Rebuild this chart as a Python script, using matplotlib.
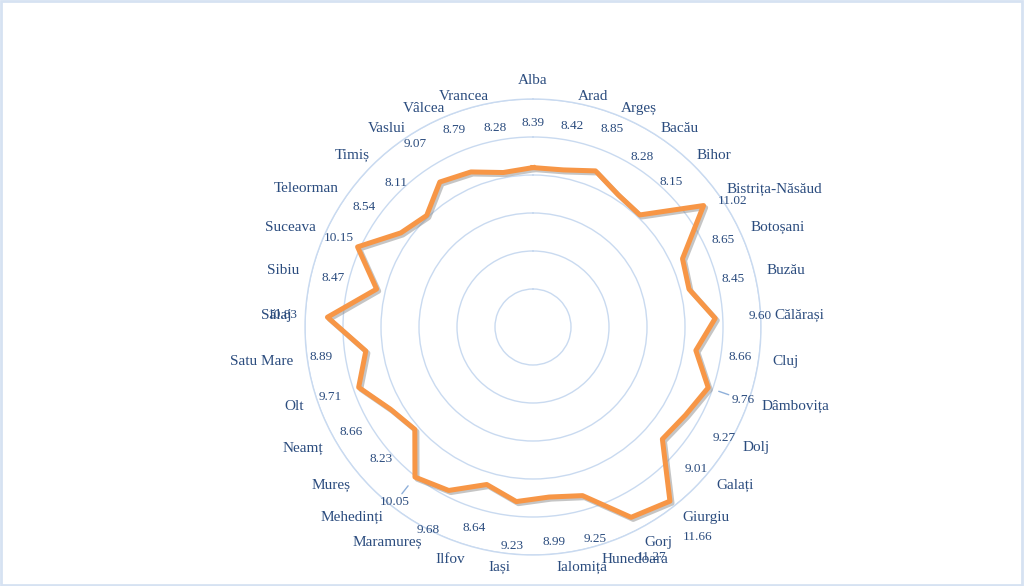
import numpy as np
import matplotlib
matplotlib.use('Agg')
import matplotlib.pyplot as plt
import matplotlib.patheffects as pe
from matplotlib.patches import Rectangle

# Counties (clockwise from the top) and their values
counties = ['Alba', 'Arad', 'Argeș', 'Bacău', 'Bihor', 'Bistrița-Năsăud', 'Botoșani',
            'Buzău', 'Călărași', 'Cluj', 'Dâmbovița', 'Dolj', 'Galați', 'Giurgiu',
            'Gorj', 'Hunedoara', 'Ialomița', 'Iași', 'Ilfov', 'Maramureș', 'Mehedinți',
            'Mureș', 'Neamț', 'Olt', 'Satu Mare', 'Sălaj', 'Sibiu', 'Suceava',
            'Teleorman', 'Timiș', 'Vaslui', 'Vâlcea', 'Vrancea']
values = [8.39, 8.42, 8.85, 8.28, 8.15, 11.02, 8.65,
          8.45, 9.60, 8.66, 9.76, 9.27, 9.01, 11.66,
          11.27, 9.25, 8.99, 9.23, 8.64, 9.68, 10.05,
          8.23, 8.66, 9.71, 8.89, 10.83, 8.47, 10.15,
          8.54, 8.11, 9.07, 8.79, 8.28]

# data labels that were dragged away from their default spot
# (radius in data units, angle shift in degrees)
moved_labels = {'Bistrița-Năsăud': (12.4, 3.2), 'Dâmbovița': (11.7, 0), 'Mehedinți': (11.75, 0),
                'Olt': (11.3, 0), 'Suceava': (11.25, 0)}
leader_lines = ['Dâmbovița', 'Mehedinți']

text_color = '#2B4C7E'
grid_color = '#C9DAF0'
line_color = '#F79646'

n = len(counties)
angles = np.linspace(0, 2 * np.pi, n, endpoint=False)

fig = plt.figure(figsize=(10.24, 5.86), dpi=100)
fig.patches.append(Rectangle((0.001, 0.002), 0.997, 0.996, transform=fig.transFigure,
                             fill=False, edgecolor='#D6E2F2', linewidth=2))

ax = fig.add_axes([305 / 1024, 31 / 586, 456 / 1024, 456 / 586], projection='polar')
ax.set_theta_zero_location('N')
ax.set_theta_direction(-1)
ax.set_ylim(0, 12)
ax.set_yticks([2, 4, 6, 8, 10, 12])
ax.set_yticklabels([])
ax.set_xticks([])
ax.grid(axis='y', color=grid_color, linewidth=1)
ax.grid(axis='x', visible=False)
ax.spines['polar'].set_color(grid_color)
ax.spines['polar'].set_linewidth(1)
ax.set_facecolor('none')

# series line with a soft shadow
th = np.append(angles, angles[0])
vals = np.append(values, values[0])
ax.plot(th, vals, color=line_color, linewidth=3.6, solid_joinstyle='round',
        path_effects=[pe.SimpleLineShadow(offset=(1.5, -1.5), shadow_color='gray', alpha=0.45),
                      pe.Normal()], zorder=3)

# category labels (sit a little closer to the ring near the top, like Excel does)
px = 12 / 228  # data units per pixel
for a, name in zip(angles, counties):
    s, c = np.sin(a), np.cos(a)
    ha = 'left' if s > 0.05 else ('right' if s < -0.05 else 'center')
    if c > 0.999:
        va, r = 'bottom', 240 * px
    else:
        va, r = 'center', (242 - 7 * max(c, 0)) * px
    ax.text(a, r, name, ha=ha, va=va, fontsize=11, color=text_color,
            family='Liberation Serif', clip_on=False)

# data labels
for a, name, v in zip(angles, counties, values):
    r, shift = moved_labels.get(name, (v + 2.37, 0))
    la = a + np.deg2rad(shift)
    if name in leader_lines:
        ax.annotate(f'{v:.2f}', xy=(a, v), xytext=(la, r), ha='center', va='center',
                    fontsize=9.5, color=text_color, family='Liberation Serif',
                    arrowprops=dict(arrowstyle='-', color='#8FB0DA', lw=1, shrinkA=0, shrinkB=8))
    else:
        ax.text(la, r, f'{v:.2f}', ha='center', va='center', fontsize=9.5,
                color=text_color, family='Liberation Serif', clip_on=False)

fig.savefig('out.png', dpi=100)
